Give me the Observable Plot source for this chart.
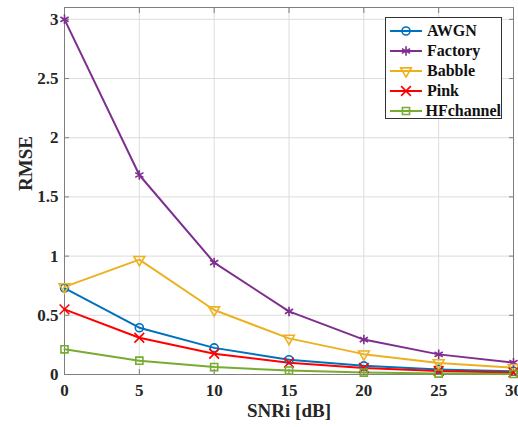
<!DOCTYPE html>
<html><head><meta charset="utf-8">
<script src="https://cdn.jsdelivr.net/npm/d3@7"></script>
<script src="https://cdn.jsdelivr.net/npm/@observablehq/plot@0.6"></script>
<style>
body{margin:0;background:#fff;}
#wrap{position:relative;width:518px;height:427px;font-family:"Liberation Serif","Times New Roman",serif;}
#wrap > svg.main{position:absolute;left:0;top:0;}
#legend{position:absolute;left:385px;top:17px;width:117px;height:102px;box-sizing:border-box;border:1px solid #333;background:#fff;padding:3px 0 0 3px;}
.row{display:flex;align-items:center;height:20px;font-weight:bold;font-size:16px;color:#111;}
.row svg{margin-right:3px;}
</style></head>
<body><div id="wrap"><div id="legend"></div></div>
<script>
const snr = [0, 5, 10, 15, 20, 25, 30];
const seriesNames = ["AWGN", "Factory", "Babble", "Pink", "HFchannel"];
const awgn    = [0.73, 0.395, 0.225, 0.125, 0.073, 0.043, 0.027];
const factory = [3.0, 1.685, 0.945, 0.533, 0.295, 0.17, 0.10];
const babble  = [0.74, 0.97, 0.545, 0.305, 0.172, 0.098, 0.058];
const pink    = [0.55, 0.31, 0.175, 0.10, 0.055, 0.03, 0.017];
const hf      = [0.213, 0.117, 0.063, 0.033, 0.016, 0.008, 0.005];
const yTicks = [0, 0.5, 1, 1.5, 2, 2.5, 3];
const xTicks = [0, 5, 10, 15, 20, 25, 30];
const colors = ["#0072BD", "#7E2F8E", "#EDB120", "#FF0000", "#77AC30"];
const symbols = ["circle", "asterisk", "triangle", "times", "square"];
const rotations = [0, 0, 180, 0, 0];
const radii = [4, 4.5, 4, 4.5, 4];

const allVals = [awgn, factory, babble, pink, hf];
const data = [];
seriesNames.forEach((s, i) => snr.forEach((x, j) => data.push({series: s, snr: x, rmse: allVals[i][j], k: i})));

const font = `"Liberation Serif","Times New Roman",serif`;
const chart = Plot.plot({
  width: 518, height: 427,
  marginLeft: 64, marginRight: 5, marginTop: 7, marginBottom: 53,
  style: {fontFamily: font, fontSize: "17px", fontWeight: "bold", color: "#262626", background: "white"},
  x: {domain: [0, 30], ticks: xTicks, label: null},
  y: {domain: [0, 3.1], ticks: yTicks, label: null},
  marks: [
    Plot.gridX(xTicks, {stroke: "#dcdcdc", strokeOpacity: 1}),
    Plot.gridY(yTicks, {stroke: "#dcdcdc", strokeOpacity: 1}),
    Plot.frame({stroke: "#7f7f7f"}),
    Plot.axisX(xTicks, {tickSize: 0, tickPadding: 9, fontSize: 17, fontWeight: "bold", tickFormat: d => String(d)}),
    Plot.axisY(yTicks, {tickSize: 0, tickPadding: 6, fontSize: 17, fontWeight: "bold", tickFormat: d => String(d)}),
    Plot.axisX(xTicks, {tickSize: -5, text: null, stroke: "#7f7f7f"}),
    Plot.axisY(yTicks, {tickSize: -5, text: null, stroke: "#7f7f7f"}),
    Plot.axisX(xTicks, {anchor: "top", tickSize: -5, text: null, stroke: "#7f7f7f"}),
    Plot.axisY(yTicks, {anchor: "right", tickSize: -5, text: null, stroke: "#7f7f7f"}),
    ...seriesNames.map((s, i) => Plot.line(data.filter(d => d.k === i), {x: "snr", y: "rmse", stroke: colors[i], strokeWidth: 2})),
    ...seriesNames.map((s, i) => Plot.dot(data.filter(d => d.k === i), {x: "snr", y: "rmse", stroke: colors[i], symbol: symbols[i], rotate: rotations[i], r: radii[i], strokeWidth: 1.6, fill: "none"})),
    Plot.text(["SNRi [dB]"], {frameAnchor: "bottom", dy: 42, fontSize: 19, fontWeight: "bold", fill: "#262626"}),
    Plot.text(["RMSE"], {frameAnchor: "left", dx: -39, rotate: -90, fontSize: 19, fontWeight: "bold", fill: "#262626"})
  ]
});
chart.classList.add("main");
document.getElementById("wrap").prepend(chart);

const leg = d3.select("#legend");
const symMap = {circle: d3.symbolCircle, asterisk: d3.symbolAsterisk, triangle: d3.symbolTriangle, times: d3.symbolTimes, square: d3.symbolSquare};
seriesNames.forEach((s, i) => {
  const row = leg.append("div").attr("class", "row");
  const svg = row.append("svg").attr("width", 35).attr("height", 14);
  svg.append("line").attr("x1", 1).attr("x2", 33).attr("y1", 7).attr("y2", 7).attr("stroke", colors[i]).attr("stroke-width", 2);
  const size = Math.PI * radii[i] * radii[i];
  svg.append("path").attr("d", d3.symbol(symMap[symbols[i]], size)()).attr("transform", `translate(17,7) rotate(${rotations[i]})`)
    .attr("fill", "none").attr("stroke", colors[i]).attr("stroke-width", 1.6);
  row.append("span").text(s);
});
</script>
</body></html>
